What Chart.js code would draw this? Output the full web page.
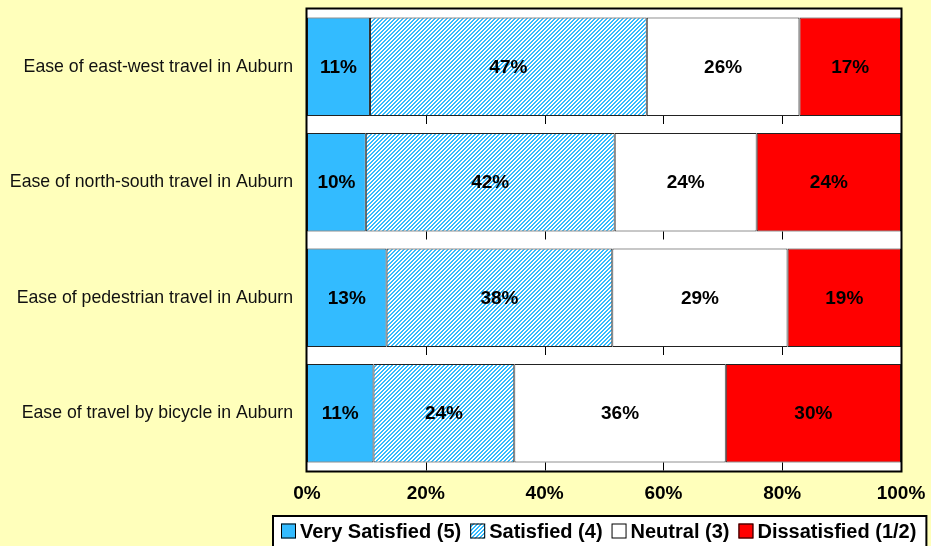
<!DOCTYPE html>
<html><head><meta charset="utf-8">
<script src="https://cdn.jsdelivr.net/npm/chart.js@4/dist/chart.umd.min.js"></script>
<style>html,body{margin:0;padding:0;background:#FFFFBB;overflow:hidden}#wrap{width:931px;height:546px}</style>
</head><body><div id="wrap"><canvas id="c" width="931" height="546"></canvas></div>
<script>
const categories = ["Ease of east-west travel in Auburn", "Ease of north-south travel in Auburn", "Ease of pedestrian travel in Auburn", "Ease of travel by bicycle in Auburn"];
const seriesNames = ["Very Satisfied (5)", "Satisfied (4)", "Neutral (3)", "Dissatisfied (1/2)"];
const verySatisfied = [10.6, 9.9, 13.4, 11.2];
const satisfied = [46.6, 41.9, 38.0, 23.7];
const neutral = [25.7, 23.9, 29.5, 35.6];
const dissatisfied = [17.1, 24.3, 19.1, 29.5];
const verySatisfiedLabels = ["11%", "10%", "13%", "11%"];
const satisfiedLabels = ["47%", "42%", "38%", "24%"];
const neutralLabels = ["26%", "24%", "29%", "36%"];
const dissatisfiedLabels = ["17%", "24%", "19%", "30%"];
const xTickValues = [0, 20, 40, 60, 80, 100];

const BG = '#FFFFBB';
const BLUE = '#33BBFF';
const FONT = '"Liberation Sans", Arial, sans-serif';

function makeStripe() {
  const c = document.createElement('canvas');
  c.width = 4; c.height = 4;
  const g = c.getContext('2d');
  g.fillStyle = '#fff'; g.fillRect(0, 0, 4, 4);
  g.fillStyle = BLUE;
  for (let y = 0; y < 4; y++) for (let x = 0; x < 4; x++) {
    if ((x + y) % 4 === 0 || (x + y) % 4 === 1) g.fillRect(x, y, 1, 1);
  }
  return g.createPattern(c, 'repeat');
}
const stripe = makeStripe();

const allLabels = [verySatisfiedLabels, satisfiedLabels, neutralLabels, dissatisfiedLabels];

const decor = {
  id: 'decor',
  beforeDraw(chart) {
    const ctx = chart.ctx, a = chart.chartArea;
    ctx.save();
    ctx.fillStyle = BG; ctx.fillRect(0, 0, chart.width, chart.height);
    ctx.fillStyle = '#fff'; ctx.fillRect(a.left, a.top, a.right - a.left, a.bottom - a.top);
    ctx.restore();
  },
  afterDatasetsDraw(chart) {
    const ctx = chart.ctx, a = chart.chartArea, xs = chart.scales.x;
    ctx.save();
    const meta0 = chart.getDatasetMeta(0);
    ctx.strokeStyle = '#000'; ctx.lineWidth = 1;
    meta0.data.forEach(bar => {
      const yb = bar.y + bar.height / 2;
      xTickValues.forEach(v => {
        if (v === xs.min || v === xs.max) return;
        const px = Math.round(xs.getPixelForValue(v)) + 0.5;
        ctx.beginPath(); ctx.moveTo(px, yb); ctx.lineTo(px, Math.min(yb + 8, a.bottom)); ctx.stroke();
      });
    });
    ctx.lineWidth = 2; ctx.strokeStyle = '#000';
    ctx.strokeRect(a.left - 0.5, a.top - 0.5, a.right - a.left + 1, a.bottom - a.top + 1);
    ctx.font = 'bold 19px ' + FONT;
    ctx.fillStyle = '#000'; ctx.textAlign = 'center'; ctx.textBaseline = 'middle';
    chart.data.datasets.forEach((ds, di) => {
      const meta = chart.getDatasetMeta(di);
      meta.data.forEach((bar, i) => {
        const cx = (bar.x + bar.base) / 2;
        ctx.fillText(allLabels[di][i], cx, bar.y + 1);
      });
    });
    ctx.restore();
  },
  afterDraw(chart) {
    const ctx = chart.ctx, a = chart.chartArea;
    const top = chart.scales.x.bottom;
    ctx.save();
    ctx.font = 'bold 20px ' + FONT;
    const box = 15, gap = 4, spacing = 9, padL = 8, padR = 10;
    const widths = chart.data.datasets.map(d => ctx.measureText(d.label).width);
    let total = padL + padR + spacing * (widths.length - 1);
    widths.forEach(w => total += box + gap + w);
    let x = Math.round((a.left + a.right) / 2 - total / 2 - 4);
    ctx.fillStyle = '#fff'; ctx.strokeStyle = '#000'; ctx.lineWidth = 2;
    ctx.fillRect(x, top, total, chart.height - top + 5);
    ctx.strokeRect(x, top, total, chart.height - top + 5);
    const cy = top + 15;
    let cx = x + padL;
    ctx.textBaseline = 'middle'; ctx.textAlign = 'left';
    chart.data.datasets.forEach((d, i) => {
      ctx.fillStyle = d.backgroundColor;
      ctx.fillRect(cx, cy - box / 2, box, box);
      ctx.lineWidth = 1; ctx.strokeStyle = '#000';
      ctx.strokeRect(cx + 0.5, cy - box / 2 + 0.5, box - 1, box - 1);
      ctx.fillStyle = '#000';
      ctx.fillText(d.label, cx + box + gap, cy + 1);
      cx += box + gap + widths[i] + spacing;
    });
    ctx.restore();
  }
};

const seriesData = [verySatisfied, satisfied, neutral, dissatisfied];
const colors = [BLUE, stripe, '#FFFFFF', '#FF0000'];

new Chart(document.getElementById('c'), {
  type: 'bar',
  data: {
    labels: categories,
    datasets: seriesNames.map((n, i) => ({
      label: n, data: seriesData[i], backgroundColor: colors[i],
      borderColor: '#222', borderWidth: 1, borderSkipped: false,
      categoryPercentage: 1, barPercentage: 0.853
    }))
  },
  options: {
    indexAxis: 'y', responsive: false, animation: false, devicePixelRatio: 1,
    layout: { padding: { top: 9, right: 30, bottom: 30, left: 0 } },
    plugins: { legend: { display: false }, tooltip: { enabled: false } },
    scales: {
      x: {
        stacked: true, min: 0, max: 100,
        afterBuildTicks: s => { s.ticks = xTickValues.map(v => ({ value: v })); },
        grid: { display: false, drawTicks: false }, border: { display: false },
        ticks: { padding: 11, autoSkip: false, maxRotation: 0, color: '#000',
          font: { family: FONT, size: 19, weight: 'bold' }, callback: v => v + '%' },
        afterFit: s => { s.height = 45; s.paddingLeft = 0; s.paddingRight = 0; }
      },
      y: {
        stacked: true,
        grid: { display: false, drawTicks: false }, border: { display: false },
        ticks: { padding: 14, autoSkip: false, color: '#111', font: { family: FONT, size: 17.7 } },
        afterFit: s => { s.width = 307; s.paddingTop = 0; s.paddingBottom = 0; }
      }
    }
  },
  plugins: [decor]
});
</script></body></html>
